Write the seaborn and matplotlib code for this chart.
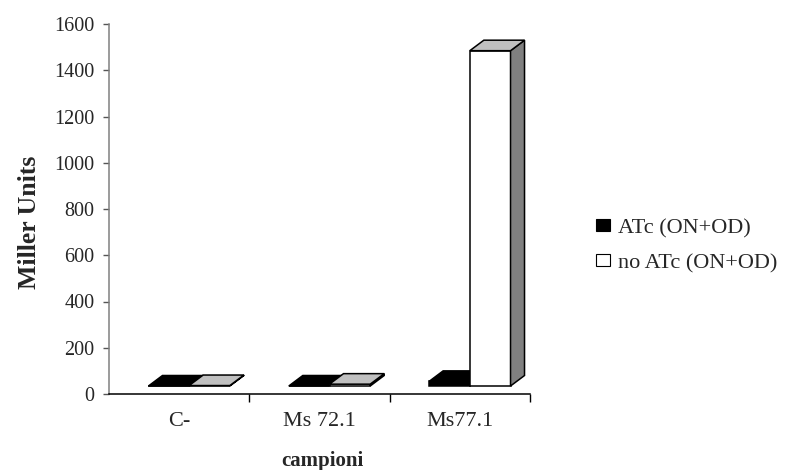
#!/usr/bin/env python3
"""
Miller Units per campione, ATc vs no ATc (ON+OD).
Excel-style 3D columns: seaborn draws the front faces, the top and side
faces are added from each bar's own geometry.
"""

import pandas as pd
import matplotlib
matplotlib.use('Agg')
import matplotlib.pyplot as plt
import seaborn as sns
from matplotlib.patches import Patch, Polygon
from matplotlib.transforms import ScaledTranslation, IdentityTransform

# =============================================================================
# Data
# =============================================================================
CAMPIONI = ['C-', 'Ms 72.1', 'Ms77.1']
ATC_ON_OD = [0, 0, 20]
NO_ATC_ON_OD = [2, 8, 1450]
SERIES = ['ATc (ON+OD)', 'no ATc (ON+OD)']
Y_TICKS = [0, 200, 400, 600, 800, 1000, 1200, 1400, 1600]

# =============================================================================
# Style
# =============================================================================
FRONT_COLORS = {'ATc (ON+OD)': '#000000', 'no ATc (ON+OD)': '#ffffff'}
TOP_COLORS = {'ATc (ON+OD)': '#000000', 'no ATc (ON+OD)': '#c0c0c0'}
SIDE_COLORS = {'ATc (ON+OD)': '#000000', 'no ATc (ON+OD)': '#808080'}

# offsets in inches (figure at 100 dpi)
FLOOR_DX, FLOOR_DY = 0.10, 0.08   # front faces sit a bit behind the axis
DEPTH_DX, DEPTH_DY = 0.14, 0.105  # depth of each column
EDGE_LW = 1.1

FONT = 'Liberation Serif'


def build_frame():
    rows = []
    for name, values in zip(SERIES, [ATC_ON_OD, NO_ATC_ON_OD]):
        for camp, val in zip(CAMPIONI, values):
            rows.append({'campione': camp, 'miller': val, 'serie': name})
    return pd.DataFrame(rows)


def main():
    sns.set_theme(style='white')
    plt.rcParams['font.family'] = [FONT, 'DejaVu Serif']

    df = build_frame()

    fig, ax = plt.subplots(figsize=(7.88, 4.70), dpi=100)
    fig.subplots_adjust(left=109 / 788, right=530 / 788,
                        bottom=(470 - 394) / 470, top=(470 - 24) / 470)

    sns.barplot(data=df, x='campione', y='miller', hue='serie',
                order=CAMPIONI, hue_order=SERIES, palette=FRONT_COLORS,
                width=0.58, edgecolor='black', linewidth=EDGE_LW,
                saturation=1, legend=False, ax=ax)

    ax.set_xlim(-0.5, len(CAMPIONI) - 0.5)
    ax.set_ylim(Y_TICKS[0], Y_TICKS[-1])

    # Pair each bar with its series (seaborn draws one hue level at a time)
    bars = list(ax.patches)
    n = len(CAMPIONI)
    tagged = [(bar, SERIES[i // n]) for i, bar in enumerate(bars)]
    tagged.sort(key=lambda t: t[0].get_x())

    shift = ScaledTranslation(FLOOR_DX, FLOOR_DY, fig.dpi_scale_trans)
    front_trans = ax.transData + shift
    dx, dy = DEPTH_DX * fig.dpi, DEPTH_DY * fig.dpi

    for k, (bar, serie) in enumerate(tagged):
        x0, y0 = bar.get_x(), bar.get_y()
        x1, y1 = x0 + bar.get_width(), y0 + bar.get_height()
        (px0, py0), (px1, py1) = front_trans.transform([(x0, y0), (x1, y1)])

        z = 3 + k
        bar.set_transform(front_trans)
        bar.set_zorder(z)
        bar.set_clip_on(False)

        side = Polygon([(px1, py0), (px1 + dx, py0 + dy),
                        (px1 + dx, py1 + dy), (px1, py1)],
                       closed=True, facecolor=SIDE_COLORS[serie],
                       edgecolor='black', linewidth=EDGE_LW,
                       transform=IdentityTransform(), zorder=z, clip_on=False)
        top = Polygon([(px0, py1), (px1, py1),
                       (px1 + dx, py1 + dy), (px0 + dx, py1 + dy)],
                      closed=True, facecolor=TOP_COLORS[serie],
                      edgecolor='black', linewidth=EDGE_LW,
                      transform=IdentityTransform(), zorder=z, clip_on=False)
        ax.add_patch(side)
        ax.add_patch(top)

    # Axes styling
    for s in ['top', 'right']:
        ax.spines[s].set_visible(False)
    ax.spines['left'].set_color('#808080')
    ax.spines['left'].set_linewidth(1.1)
    ax.spines['bottom'].set_color('black')
    ax.spines['bottom'].set_linewidth(1.1)

    ax.set_yticks(Y_TICKS)
    ax.set_yticklabels([str(v) for v in Y_TICKS])
    ax.tick_params(axis='y', which='major', direction='out', length=4.5,
                   width=1, color='#555555', pad=6, labelsize=14.5,
                   left=True)

    ax.set_xticks(range(len(CAMPIONI)))
    ax.set_xticklabels(CAMPIONI)
    ax.set_xticks([i + 0.5 for i in range(len(CAMPIONI))], minor=True)
    ax.tick_params(axis='x', which='major', length=0, pad=13, labelsize=16)
    ax.tick_params(axis='x', which='minor', direction='out', length=6,
                   width=1, color='black', bottom=True)

    ax.set_xlabel('')
    ax.set_ylabel('')
    fig.text(30 / 788, 1 - 222 / 470, 'Miller Units', rotation=90,
             ha='center', va='center', fontsize=18.5, fontweight='bold')
    fig.text(322 / 788, 1 - 461 / 470, 'campioni',
             ha='center', va='center', fontsize=15, fontweight='bold')

    # Legend
    handles = [Patch(facecolor=FRONT_COLORS[s], edgecolor='black',
                     linewidth=0.8, label=s) for s in SERIES]
    fig.legend(handles=handles, loc='center left',
               bbox_to_anchor=(596 / 788, 1 - 246 / 470),
               frameon=False, fontsize=16, handlelength=0.62,
               handleheight=0.45, handletextpad=0.35, labelspacing=0.7,
               borderpad=0, borderaxespad=0)

    fig.savefig('out.png', dpi=100)
    plt.close(fig)


if __name__ == '__main__':
    main()
